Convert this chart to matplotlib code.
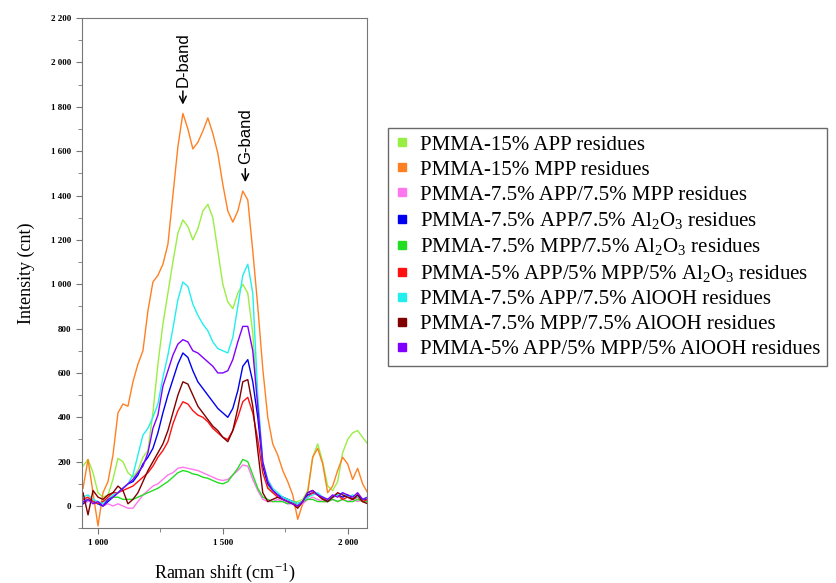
import matplotlib
matplotlib.use("Agg")
from matplotlib import pyplot as plt
from matplotlib.lines import Line2D
from matplotlib.ticker import MultipleLocator, FuncFormatter
import numpy as np

# Raman shift grid (cm-1)
shift = np.arange(940, 2081, 20)

app15 = [180, 210, 150, 60, 40, 50, 120, 215, 200, 150, 130, 160, 220, 250, 420, 640, 820, 960, 1100, 1230,
         1290, 1260, 1200, 1250, 1330, 1360, 1300, 1150, 1000, 920, 890, 960, 1000, 960, 780, 450, 180, 90, 60, 50,
         40, 30, 20, 20, 30, 70, 220, 280, 200, 90, 70, 110, 240, 300, 330, 340, 310, 280]
mpp15 = [80, 210, 60, -90, 60, 110, 230, 420, 460, 450, 560, 640, 700, 880, 1010, 1040, 1090, 1180, 1400, 1620,
         1770, 1700, 1610, 1640, 1690, 1750, 1680, 1590, 1450, 1330, 1280, 1330, 1420, 1380, 1150, 900, 620, 400, 280, 230,
         160, 110, 50, -60, 10, 60, 220, 260, 190, 60, 90, 160, 220, 190, 120, 170, 100, 60]
app_mpp = [10, 20, 30, 10, 0, 10, 0, 10, 0, -10, -10, 20, 50, 70, 90, 100, 120, 140, 150, 170,
           175, 170, 165, 160, 150, 140, 130, 120, 115, 120, 140, 160, 185, 180, 120, 70, 30, 20, 20, 30,
           20, 10, 10, 0, 10, 30, 40, 30, 20, 20, 30, 20, 30, 20, 30, 20, 30, 20]
app_al2o3 = [10, 30, 20, 10, 0, 20, 40, 60, 80, 100, 110, 140, 190, 220, 260, 330, 420, 500, 570, 640,
             690, 670, 610, 560, 530, 500, 470, 440, 420, 400, 440, 520, 630, 660, 560, 400, 180, 100, 70, 50,
             40, 30, 20, 10, 20, 50, 60, 50, 40, 20, 40, 50, 40, 50, 30, 50, 30, 30]
mpp_al2o3 = [20, 30, 20, 10, 20, 30, 40, 40, 30, 30, 30, 40, 50, 60, 70, 80, 95, 110, 130, 150,
             160, 155, 145, 140, 130, 125, 115, 105, 100, 110, 140, 170, 210, 200, 140, 80, 40, 30, 20, 20,
             20, 10, 20, 10, 20, 30, 30, 20, 20, 20, 30, 20, 30, 20, 20, 30, 20, 20]
tri_al2o3 = [30, 40, 20, 10, 20, 40, 60, 60, 70, 80, 90, 110, 130, 150, 180, 220, 250, 290, 370, 430,
             470, 460, 430, 410, 400, 380, 350, 330, 310, 300, 340, 400, 470, 490, 420, 300, 150, 80, 60, 40,
             30, 20, 10, 0, 20, 40, 60, 50, 30, 30, 40, 50, 30, 40, 30, 40, 20, 30]
app_alooh = [40, 50, 30, 20, 10, 30, 50, 60, 80, 100, 140, 230, 320, 350, 400, 460, 580, 680, 800, 930,
             1010, 990, 910, 860, 820, 790, 740, 710, 700, 690, 760, 900, 1040, 1090, 960, 500, 200, 120, 80, 60,
             40, 30, 20, 10, 20, 40, 50, 60, 40, 30, 40, 50, 60, 40, 50, 40, 30, 40]
mpp_alooh = [60, -40, 70, 40, 30, 50, 60, 90, 70, 10, 30, 60, 110, 160, 200, 240, 280, 340, 420, 500,
             560, 550, 500, 450, 420, 390, 360, 340, 310, 290, 340, 440, 560, 570, 450, 250, 60, 20, 30, 40,
             30, 20, 10, -10, 20, 60, 70, 50, 30, 20, 40, 60, 50, 40, 30, 50, 20, 10]
tri_alooh = [20, 30, 10, 20, 0, 30, 40, 60, 80, 100, 120, 150, 180, 240, 350, 410, 540, 610, 680, 730,
             750, 740, 700, 690, 670, 650, 630, 600, 600, 610, 660, 740, 810, 810, 700, 450, 200, 110, 70, 50,
             30, 20, 10, 0, 20, 60, 70, 50, 40, 30, 50, 40, 60, 50, 40, 60, 30, 40]

labels = [
    'PMMA-15% APP residues',
    'PMMA-15% MPP residues',
    'PMMA-7.5% APP/7.5% MPP residues',
    r'PMMA-7.5% APP/7.5% $\mathregular{Al_2O_3}$ residues',
    r'PMMA-7.5% MPP/7.5% $\mathregular{Al_2O_3}$ residues',
    r'PMMA-5% APP/5% MPP/5% $\mathregular{Al_2O_3}$ residues',
    'PMMA-7.5% APP/7.5% AlOOH residues',
    'PMMA-7.5% MPP/7.5% AlOOH residues',
    'PMMA-5% APP/5% MPP/5% AlOOH residues',
]
series = [app15, mpp15, app_mpp, app_al2o3, mpp_al2o3, tri_al2o3, app_alooh, mpp_alooh, tri_alooh]
colors = ['#99EE44', '#FF8022', '#FF77EE', '#0000EE', '#22DD22', '#FF1111', '#22EEEE', '#800000', '#7F00FF']

fig = plt.figure(figsize=(8.37, 5.83), dpi=100)
ax = fig.add_axes([0.098, 0.094, 0.340, 0.875])

for y, c in zip(series, colors):
    ax.plot(shift, y, color=c, linewidth=1.0)

ax.set_xlim(936, 2076)
ax.set_ylim(-100, 2200)
ax.xaxis.set_major_locator(MultipleLocator(500))
ax.xaxis.set_minor_locator(MultipleLocator(250))
ax.yaxis.set_major_locator(MultipleLocator(200))
ax.yaxis.set_minor_locator(MultipleLocator(100))
fmt = FuncFormatter(lambda v, p: '{:,.0f}'.format(v).replace(',', ' '))
ax.xaxis.set_major_formatter(fmt)
ax.yaxis.set_major_formatter(fmt)
ax.tick_params(which='both', direction='out', color='#777777', labelsize=6.5)
ax.tick_params(which='major', length=4)
ax.tick_params(which='minor', length=3)
ax.tick_params(top=False, right=False)
for lab in ax.get_xticklabels() + ax.get_yticklabels():
    lab.set_family('Liberation Serif')
    lab.set_fontweight('bold')
for s in ax.spines.values():
    s.set_color('#777777')

ax.set_xlabel(r'Raman shift (cm$^{\mathregular{-1}}$)', fontsize=13, family='Liberation Serif', labelpad=10)
ax.set_ylabel('Intensity (cnt)', fontsize=13, family='Liberation Serif', labelpad=12)

# band markers: rotated label with a downward arrow
arrow = dict(arrowstyle='->', color='black', lw=1.1, shrinkA=1, shrinkB=0, mutation_scale=12)
ax.annotate('D-band', xy=(1340, 1810), xytext=(1340, 1890), rotation=90, ha='center', va='bottom',
            fontsize=12, family='Liberation Sans', arrowprops=arrow)
ax.annotate('G-band', xy=(1590, 1460), xytext=(1590, 1540), rotation=90, ha='center', va='bottom',
            fontsize=12, family='Liberation Sans', arrowprops=arrow)

handles = [Line2D([], [], marker='s', linestyle='none', color=c, markersize=6) for c in colors]
leg = fig.legend(handles, labels, loc='upper left', bbox_to_anchor=(0.463, 0.781),
                 prop={'family': 'Liberation Serif', 'size': 15}, frameon=True, fancybox=False,
                 handlelength=0.7, handletextpad=0.5, labelspacing=0.26, borderpad=0.35,
                 borderaxespad=0)
leg.get_frame().set_edgecolor('#444444')
leg.get_frame().set_linewidth(1.0)

fig.savefig('out.png', dpi=100)
